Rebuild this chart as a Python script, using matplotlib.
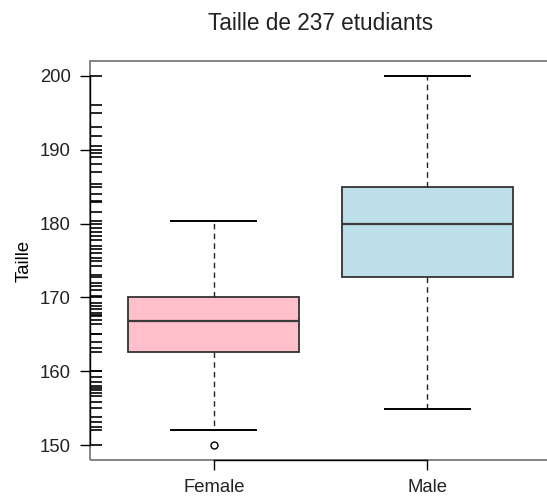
import numpy as np
import matplotlib.pyplot as plt
from matplotlib.patches import Rectangle
import matplotlib.transforms as mtransforms

plt.rcParams['font.family'] = ['Liberation Sans', 'DejaVu Sans']
plt.rcParams['text.color'] = '#222222'
plt.rcParams['xtick.labelcolor'] = '#222222'
plt.rcParams['ytick.labelcolor'] = '#222222'

# box statistics (Taille en cm)
groups = ['Female', 'Male']
whis_lo = [152.0, 154.94]
q1 = [162.56, 172.72]
medians = [166.75, 180.0]
q3 = [170.0, 185.0]
whis_hi = [180.34, 200.0]
outliers = [[150.0], []]
box_colors = ['pink', '#BDDFEA']

# all heights shown in the rug on the left
rug_heights = [200, 196, 195, 193.04, 191.8, 190.5, 190, 189.5, 189, 188, 187,
               185.42, 185, 184, 183, 182.88, 181.5, 180.34, 180, 179.4, 178.8,
               178.3, 177.8, 177, 176.5, 176, 175.3, 175, 174.2, 173, 172.72,
               172, 171.6, 171, 170.18, 170, 169.3, 168.8, 168.4, 167.9, 167.64,
               167.5, 166.9, 166.37, 165.1, 165, 164, 163.1, 162.56, 160.02, 160,
               159.2, 158.6, 158, 157.7, 157.48, 157, 156.7, 155.9, 155, 153.8,
               153.1, 152.4, 152, 150]

fig = plt.figure(figsize=(5.47, 5.01), dpi=100)
ax = fig.add_axes([90/547, 41/501, 461/547, 399/501])

stats = []
for i in range(len(groups)):
    stats.append(dict(whislo=whis_lo[i], q1=q1[i], med=medians[i], q3=q3[i],
                      whishi=whis_hi[i], fliers=outliers[i], label=groups[i]))

bp = ax.bxp(stats, positions=[1, 2], widths=0.8, patch_artist=True,
            boxprops=dict(edgecolor='#333333', linewidth=1.3),
            medianprops=dict(color='#3a3a3a', linewidth=1.6),
            whiskerprops=dict(color='#222222', linewidth=1.0, linestyle=(0, (4, 3))),
            capprops=dict(color='black', linewidth=1.4),
            capwidths=0.4,
            flierprops=dict(marker='o', markersize=5, markerfacecolor='none',
                            markeredgecolor='black', markeredgewidth=1.0))
for patch, c in zip(bp['boxes'], box_colors):
    patch.set_facecolor(c)

# rug along the y axis
trans = mtransforms.blended_transform_factory(ax.transAxes, ax.transData)
ax.hlines(rug_heights, 0, 0.026, transform=trans, color='black', linewidth=1.2)

ax.set_xlim(0.42, 2.58)
ax.set_ylim(148, 202)

# grey frame + R style axis lines
for s in ax.spines.values():
    s.set_visible(False)
ax.add_patch(Rectangle((0, 0), 1, 1, transform=ax.transAxes, fill=False,
                       edgecolor='#7a7a7a', linewidth=1.3, clip_on=False))
ax.spines['left'].set_visible(True)
ax.spines['left'].set_bounds(150, 200)
ax.spines['left'].set_linewidth(1.0)
ax.spines['bottom'].set_visible(True)
ax.spines['bottom'].set_bounds(1, 2)
ax.spines['bottom'].set_linewidth(1.0)

ax.set_yticks([150, 160, 170, 180, 190, 200])
ax.set_xticks([1, 2])
ax.set_xticklabels(groups)
ax.tick_params(axis='both', direction='out', length=7, width=1.0, labelsize=13.3, pad=7)

ax.set_ylabel('Taille', fontsize=13.3, labelpad=5)
ax.set_title('Taille de 237 etudiants', fontsize=16.3, pad=22)

plt.savefig('out.png', dpi=100)
